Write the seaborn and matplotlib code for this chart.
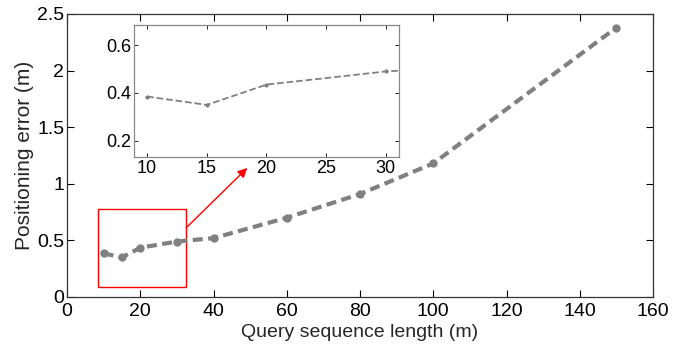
import matplotlib
matplotlib.use("Agg")
import matplotlib.pyplot as plt
import seaborn as sns
import pandas as pd
from matplotlib.patches import Rectangle, FancyArrowPatch

lengths = [10, 15, 20, 30, 40, 60, 80, 100, 150]
errors = [0.385, 0.35, 0.435, 0.49, 0.52, 0.70, 0.91, 1.18, 2.38]

sns.set_theme(style="ticks")
plt.rcParams['font.family'] = ['Liberation Sans', 'DejaVu Sans']

df = pd.DataFrame({"len": lengths, "err": errors})

fig = plt.figure(figsize=(6.86, 3.47), dpi=100)
ax = fig.add_axes([0.0977, 0.1441, 0.8543, 0.8156])
sns.lineplot(data=df, x="len", y="err", ax=ax, color="#808080", linewidth=3,
             linestyle="--", marker="o", markersize=6, markeredgewidth=0)
ax.lines[0].set_dashes([2.4, 1.3])
ax.set_xlim(0, 160)
ax.set_ylim(0, 2.5)
ax.set_xticks([0, 20, 40, 60, 80, 100, 120, 140, 160])
ax.set_yticks([0, 0.5, 1, 1.5, 2, 2.5])
ax.set_yticklabels(["0", "0.5", "1", "1.5", "2", "2.5"])
ax.set_xlabel("Query sequence length (m)", fontsize=14, labelpad=3)
ax.set_ylabel("Positioning error (m)", fontsize=15, labelpad=2)
ax.tick_params(axis="x", pad=4)
ax.tick_params(axis="y", pad=2)
ax.tick_params(direction="in", top=True, right=True, labelsize=14, length=5, width=0.8, colors="black")
for s in ax.spines.values():
    s.set_linewidth(0.9)
    s.set_color("#333333")

ax.add_patch(Rectangle((8.5, 0.09), 24.0, 0.69, fill=False, edgecolor="red", linewidth=1.0))
ax.add_patch(FancyArrowPatch((32.5, 0.61), (49.2, 1.14), arrowstyle="-|>", mutation_scale=14,
                             color="red", linewidth=1.0, shrinkA=0, shrinkB=0))

axi = fig.add_axes([0.1953, 0.5476, 0.3863, 0.380])
sns.lineplot(data=df, x="len", y="err", ax=axi, color="#808080", linewidth=1.3,
             linestyle="--", marker="o", markersize=3, markeredgewidth=0)
axi.set_xlim(8.9, 31.1)
axi.set_ylim(0.132, 0.684)
axi.set_xticks([10, 15, 20, 25, 30])
axi.set_yticks([0.2, 0.4, 0.6])
axi.set_yticklabels(["0.2", "0.4", "0.6"])
axi.set_xlabel("")
axi.set_ylabel("")
axi.tick_params(direction="in", top=True, right=True, labelsize=13, length=3, width=0.6, pad=2, colors="black")
for s in axi.spines.values():
    s.set_linewidth(0.9)
    s.set_color("#888888")

fig.savefig("out.png", dpi=100)
